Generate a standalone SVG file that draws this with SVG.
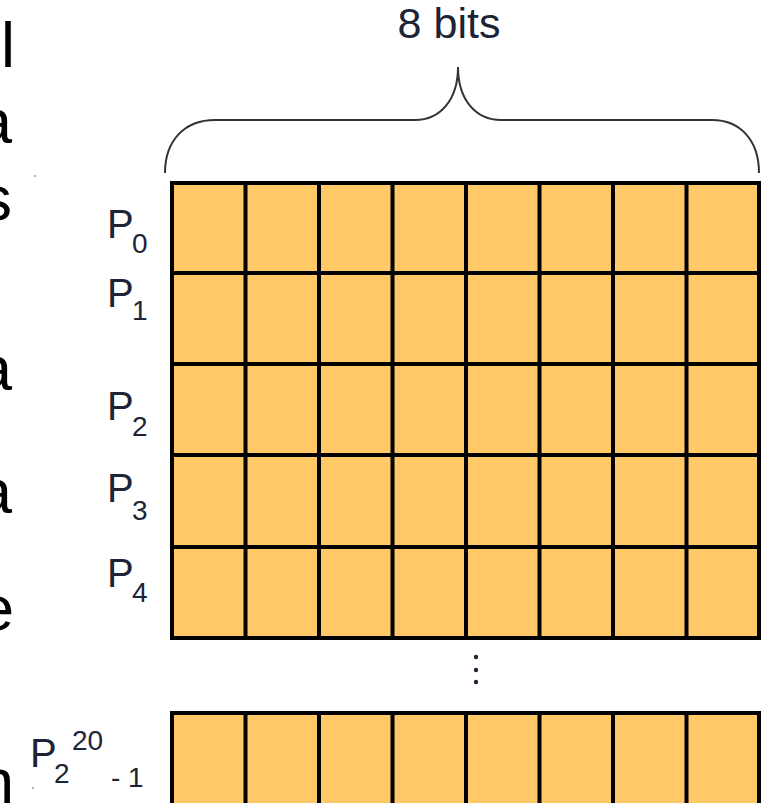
<svg xmlns="http://www.w3.org/2000/svg" width="761" height="803" viewBox="0 0 761 803">
<style>
.cut{font-family:"Liberation Sans",Arial,sans-serif;font-size:63px;fill:#000}
.lbl{font-family:"Liberation Sans",Arial,sans-serif;fill:#1c2436}
.p{font-size:40px}
.s{font-size:28px}
.row{fill:#FEC966;stroke:#000;stroke-width:4}
.div{stroke:#000;stroke-width:4}
.brace{fill:none;stroke:#333;stroke-width:2}
</style>
<rect width="761" height="803" fill="#fff"/>
<g id="cut-text">
<text class="cut" x="1" y="67">l</text>
<text class="cut" x="-23" y="143">a</text>
<text class="cut" x="-19.5" y="220">s</text>
<text class="cut" x="-23" y="390">a</text>
<text class="cut" x="-23" y="513">a</text>
<text class="cut" x="-21" y="630">e</text>
<text class="cut" x="-21" y="803">n</text>
<circle cx="35" cy="176" r="1" fill="#999"/>
<circle cx="33" cy="788" r="1" fill="#999"/>
</g>
<g id="brace">
<path class="brace" d="M165,173 C165,140 185,120 215,120 L415,120 C440,120 458,100 458,67 C458,100 476,120 501,120 L712,120 C740,120 759,140 759,173"/>
<text class="lbl" x="449" y="38" font-size="42" text-anchor="middle" textLength="103" lengthAdjust="spacingAndGlyphs">8 bits</text>
</g>
<g id="row0">
<rect class="row" x="172" y="183" width="587" height="90"/>
<text class="lbl p" x="107" y="238">P</text><text class="lbl s" x="132" y="253">0</text>
</g>
<g id="row1">
<rect class="row" x="172" y="273" width="587" height="91"/>
<text class="lbl p" x="107" y="307">P</text><text class="lbl s" x="132" y="320">1</text>
</g>
<g id="row2">
<rect class="row" x="172" y="364" width="587" height="91"/>
<text class="lbl p" x="107" y="420">P</text><text class="lbl s" x="132" y="436">2</text>
</g>
<g id="row3">
<rect class="row" x="172" y="455" width="587" height="92"/>
<text class="lbl p" x="107" y="502">P</text><text class="lbl s" x="132" y="520">3</text>
</g>
<g id="row4">
<rect class="row" x="172" y="547" width="587" height="91"/>
<text class="lbl p" x="107" y="587">P</text><text class="lbl s" x="132" y="602">4</text>
</g>
<g id="rowlast">
<rect class="row" x="172" y="713" width="587" height="95"/>
<text class="lbl p" x="30" y="767">P</text>
<text class="lbl s" x="54" y="783">2</text>
<text class="lbl s" x="72" y="750">20</text>
<text class="lbl s" x="111" y="787">- 1</text>
</g>
<g id="dividers">
<path class="div" d="M245.5,183V638M319,183V638M392.5,183V638M466,183V638M539.5,183V638M613,183V638M686.5,183V638"/>
<path class="div" d="M245.5,713V806M319,713V806M392.5,713V806M466,713V806M539.5,713V806M613,713V806M686.5,713V806"/>
</g>
<g id="ellipsis" fill="#1c2436">
<circle cx="476" cy="657" r="2.2"/>
<circle cx="476" cy="670" r="2.2"/>
<circle cx="476" cy="682" r="2.2"/>
</g>
</svg>
